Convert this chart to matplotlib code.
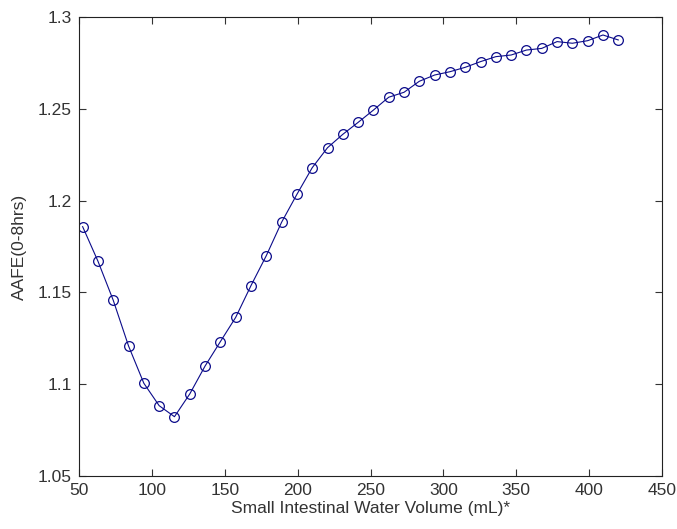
import matplotlib
matplotlib.use("Agg")
import matplotlib.pyplot as plt

# Small intestinal water volume (mL) and resulting AAFE over 0-8 hrs
volume_ml = [52.5, 63, 73.5, 84, 94.5, 105, 115.5, 126, 136.5, 147, 157.5, 168,
             178.5, 189, 199.5, 210, 220.5, 231, 241.5, 252, 262.5, 273, 283.5, 294,
             304.5, 315, 325.5, 336, 346.5, 357, 367.5, 378, 388.5, 399, 409.5, 420]
aafe = [1.1858, 1.1670, 1.1457, 1.1208, 1.1005, 1.0883, 1.0823, 1.0947, 1.1099, 1.1232,
        1.1364, 1.1537, 1.1700, 1.1882, 1.2034, 1.2179, 1.2288, 1.2361, 1.2426, 1.2493,
        1.2563, 1.2590, 1.2650, 1.2684, 1.2702, 1.2726, 1.2757, 1.2784, 1.2793, 1.2820,
        1.2829, 1.2866, 1.2857, 1.2871, 1.2902, 1.2875]

x_ticks = [50, 100, 150, 200, 250, 300, 350, 400, 450]
y_ticks = [1.05, 1.1, 1.15, 1.2, 1.25, 1.3]
y_tick_labels = ["1.05", "1.1", "1.15", "1.2", "1.25", "1.3"]

plt.rcParams["font.family"] = ["Liberation Sans", "DejaVu Sans"]

fig = plt.figure(figsize=(6.77, 5.29), dpi=100)
ax = fig.add_axes([79 / 677, 1 - 476 / 529, (662 - 79) / 677, (476 - 17) / 529])

ax.plot(volume_ml, aafe, color="#0b0b8a", linewidth=0.8, marker="o",
        markersize=7, markerfacecolor="none", markeredgecolor="#0b0b8a",
        markeredgewidth=0.9)

ax.set_xlim(50, 450)
ax.set_ylim(1.05, 1.3)
ax.set_xticks(x_ticks)
ax.set_yticks(y_ticks)
ax.set_yticklabels(y_tick_labels)
ax.tick_params(direction="in", length=5, width=0.8, top=True, right=True,
               labelsize=12.5, colors="#333333")
ax.tick_params(axis="x", pad=5)
ax.tick_params(axis="y", pad=5)
for s in ax.spines.values():
    s.set_linewidth(0.8)
    s.set_color("#222222")

ax.set_xlabel("Small Intestinal Water Volume (mL)*", fontsize=12.5,
              color="#333333", labelpad=2)
ax.set_ylabel("AAFE(0-8hrs)", fontsize=12.5, color="#333333", labelpad=8)

fig.savefig("out.png", dpi=100)
